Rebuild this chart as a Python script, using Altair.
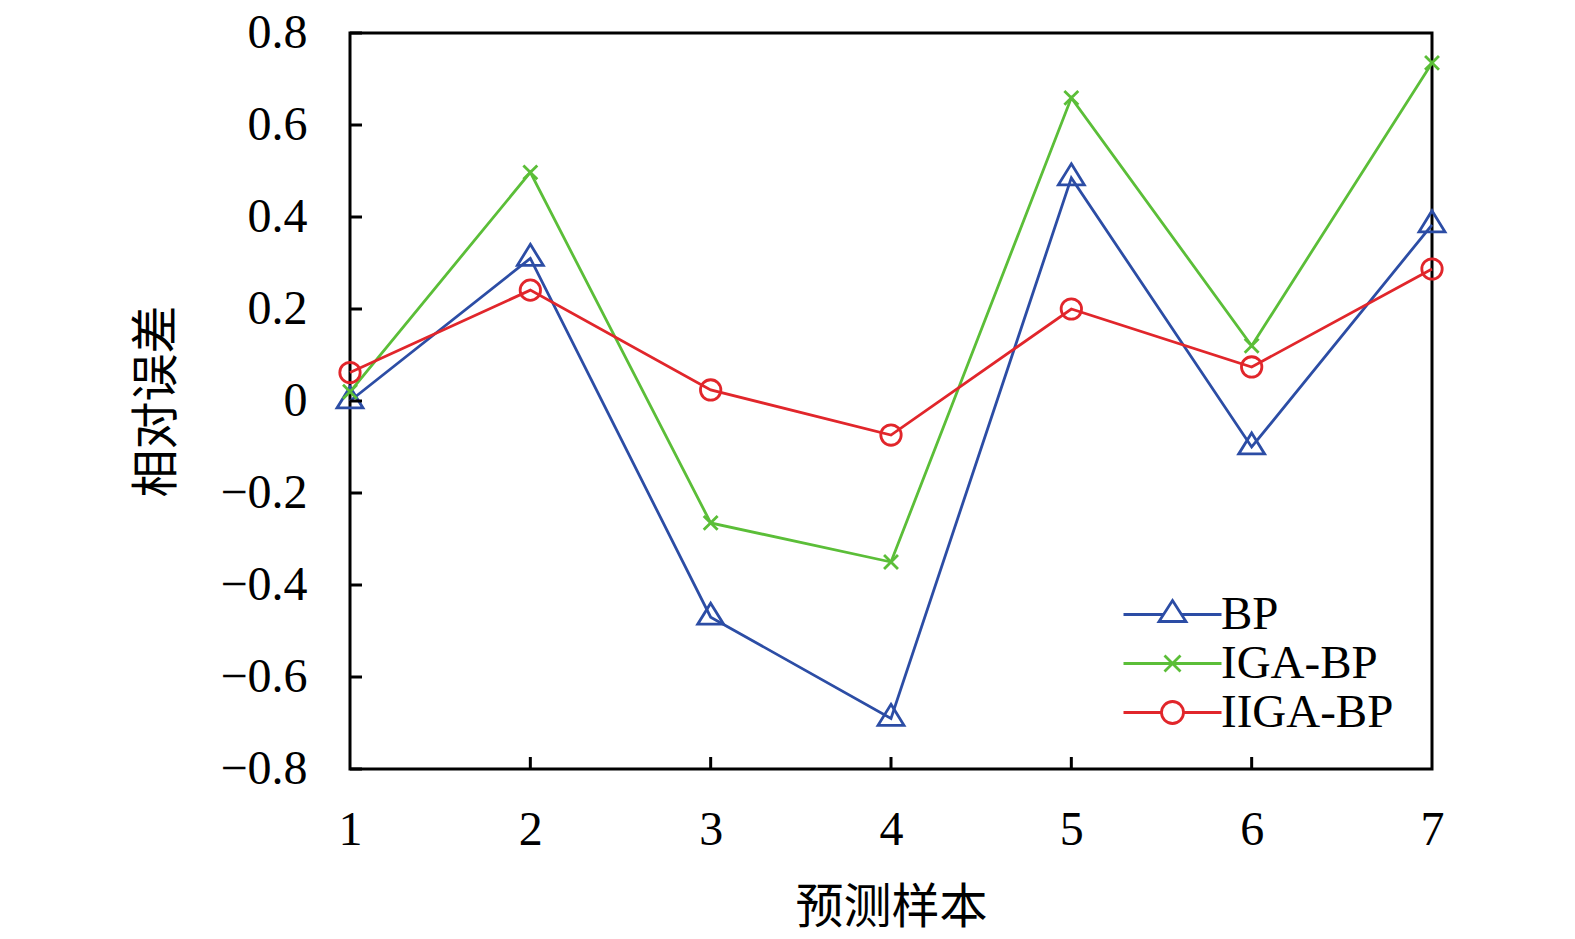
import altair as alt
import pandas as pd

samples = [1, 2, 3, 4, 5, 6, 7]
series_names = ["BP", "IGA-BP", "IIGA-BP"]
bp = [0.0, 0.31, -0.47, -0.69, 0.485, -0.10, 0.383]
iga = [0.02, 0.497, -0.265, -0.35, 0.659, 0.12, 0.735]
iiga = [0.062, 0.241, 0.024, -0.074, 0.20, 0.074, 0.287]
colors = ["#2C4DA5", "#5BBE38", "#E1262B"]
y_ticks = [-0.8, -0.6, -0.4, -0.2, 0, 0.2, 0.4, 0.6, 0.8]
x_ticks = [1, 2, 3, 4, 5, 6, 7]
x_inner_ticks = [2, 3, 4, 5, 6]

rows = []
for name, vals in zip(series_names, [bp, iga, iiga]):
    for s, v in zip(samples, vals):
        rows.append({"sample": s, "value": v, "series": name})
df = pd.DataFrame(rows)

# marker shapes (unit = sqrt(size)/2 px)
marker_paths = [
    "M0,-1.17L1.08,0.58L-1.08,0.58Z",
    "M-0.58,-0.58L0.58,0.58M0.58,-0.58L-0.58,0.58",
    "M0.85,0A0.85,0.85,0,1,1,-0.85,0A0.85,0.85,0,1,1,0.85,0Z",
]
legend_paths = [
    "M-4.9,0H-0.9M0.9,0H4.9M0,-1.4L1.35,0.7L-1.35,0.7Z",
    "M-4.9,0H4.9M-0.8,-0.8L0.8,0.8M0.8,-0.8L-0.8,0.8",
    "M-4.9,0H-1.1M1.1,0H4.9M1.1,0A1.1,1.1,0,1,1,-1.1,0A1.1,1.1,0,1,1,1.1,0Z",
]

W, H = 1082, 736

x_enc = alt.X(
    "sample:Q",
    scale=alt.Scale(domain=[1, 7], nice=False, zero=False),
    axis=alt.Axis(values=x_ticks, format="d", title="预测样本",
                  labelPadding=37, labelFlush=False, titlePadding=30),
)
y_enc = alt.Y(
    "value:Q",
    scale=alt.Scale(domain=[-0.8, 0.8], nice=False, zero=False),
    axis=alt.Axis(values=y_ticks, title="相对误差",
                  labelExpr="datum.value == 0 ? '0' : replace(format(datum.value, '.1f'), '-', '\u2212')",
                  labelPadding=43, labelFlush=False, titlePadding=38),
)
color_plain = alt.Color("series:N", scale=alt.Scale(domain=series_names, range=colors), legend=None)

base = alt.Chart(df)

lines = base.mark_line(strokeWidth=2.8).encode(x=x_enc, y=y_enc, color=color_plain)

points = base.mark_point(filled=False, size=576, strokeWidth=2.8, opacity=1).encode(
    x=x_enc, y=y_enc, color=color_plain,
    shape=alt.Shape("series:N", scale=alt.Scale(domain=series_names, range=marker_paths), legend=None),
)

leg = alt.Legend(
    title=None, orient="none", legendX=799, legendY=558,
    symbolSize=400, symbolStrokeWidth=2.8, symbolOpacity=1,
    labelFont="Liberation Serif", labelFontSize=47, labelColor="black",
    labelOffset=25, labelLimit=500, rowPadding=1, padding=0,
)
legend_layer = base.mark_point(filled=False, size=400, opacity=0).encode(
    x=x_enc, y=y_enc,
    color=alt.Color("series:N", scale=alt.Scale(domain=series_names, range=colors), legend=leg),
    shape=alt.Shape("series:N", scale=alt.Scale(domain=series_names, range=legend_paths), legend=leg),
)

ytick_df = pd.DataFrame({"value": y_ticks})
xtick_df = pd.DataFrame({"sample": x_inner_ticks})

yticks = alt.Chart(ytick_df).mark_rule(color="black", strokeWidth=3).encode(
    y=y_enc, x=alt.value(0), x2=alt.value(12)
)
xticks = alt.Chart(xtick_df).mark_rule(color="black", strokeWidth=3).encode(
    x=x_enc, y=alt.value(H), y2=alt.value(H - 12)
)

chart = (
    alt.layer(lines, points, legend_layer, yticks, xticks)
    .resolve_scale(color="independent", shape="independent")
    .properties(
        width=W, height=H,
        autosize=alt.AutoSizeParams(type="none"),
        padding={"left": 342, "top": 25, "right": 100, "bottom": 168},
        background="white",
    )
    .configure_view(stroke="black", strokeWidth=3)
    .configure_axis(
        domain=False, ticks=False, grid=False,
        labelFont="Liberation Serif", labelFontSize=48, labelColor="black",
        titleFont="Noto Sans CJK SC", titleFontSize=48, titleFontWeight="normal", titleColor="black",
    )
)

chart.save("out.html", embed_options={"renderer": "svg", "actions": False})
